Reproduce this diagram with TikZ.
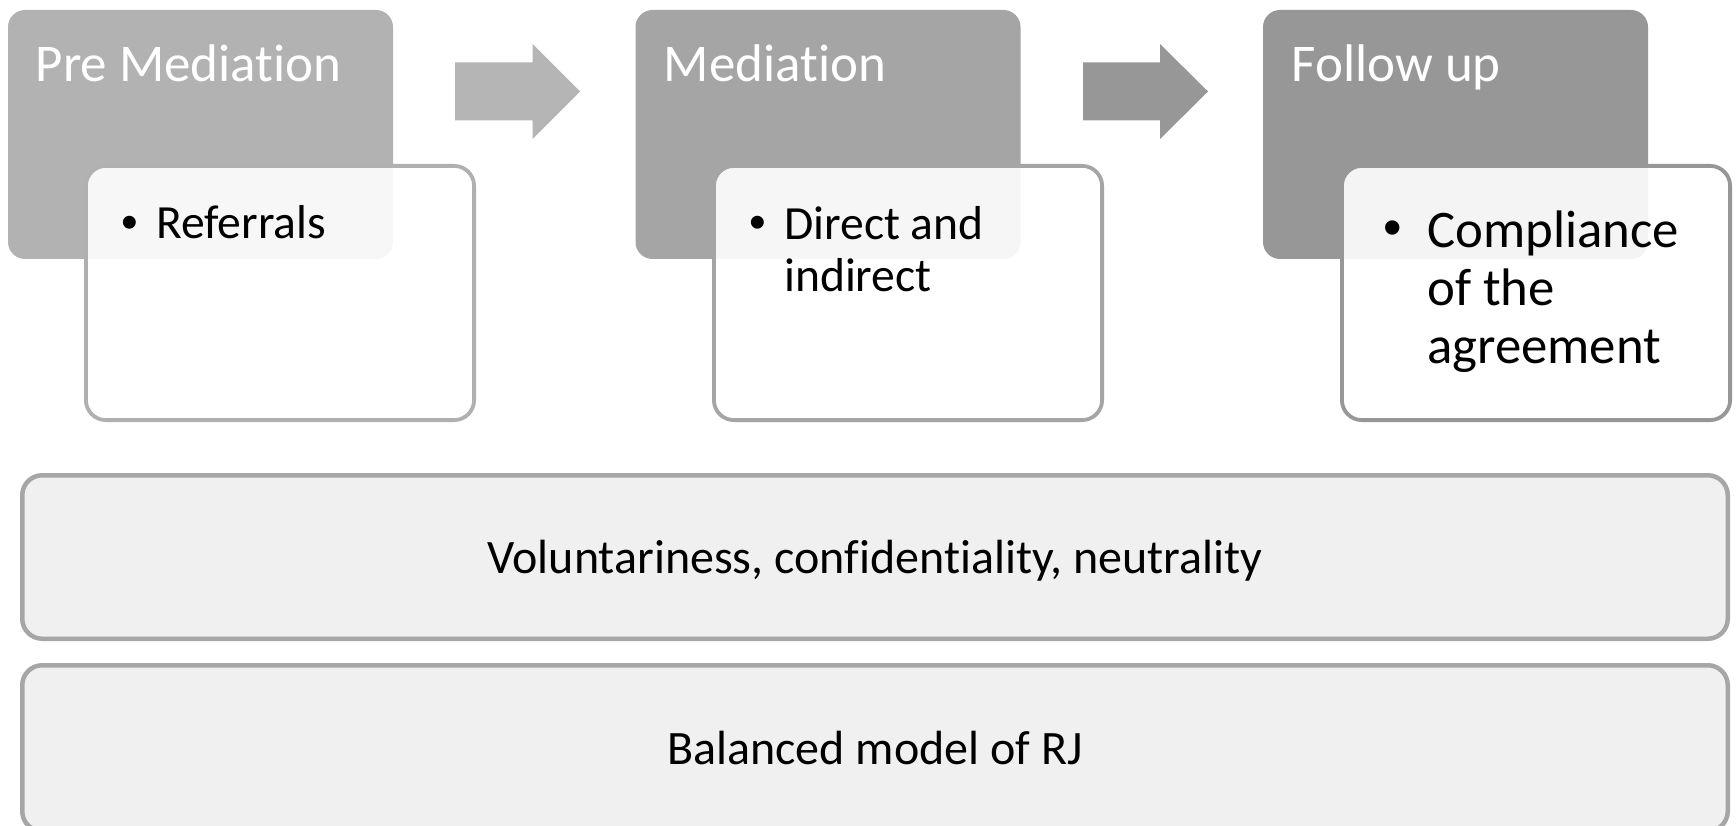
\documentclass[tikz,border=0pt]{standalone}
\usepackage{fontspec}
\setmainfont{Carlito}[Ligatures=NoCommon]
\newfontfamily\bulletfont{Liberation Sans}
\definecolor{g1}{HTML}{B2B2B2}
\definecolor{g2}{HTML}{A5A5A5}
\definecolor{g3}{HTML}{979797}
\definecolor{a1}{HTML}{B5B5B5}
\definecolor{a2}{HTML}{979797}
\definecolor{b1}{HTML}{B0B0B0}
\definecolor{b2}{HTML}{A5A5A5}
\definecolor{b3}{HTML}{979797}
\definecolor{basefill}{HTML}{F0F0F0}
\definecolor{baseedge}{HTML}{A6A6A6}
\begin{document}
\begin{tikzpicture}[x=1pt,y=-1pt,
 stagebox/.style={rounded corners=17pt, minimum width=385pt, minimum height=249pt, anchor=north west, inner sep=0pt, outer sep=0pt},
 detailbox/.style={fill=white, fill opacity=0.9, line width=3.8pt, rounded corners=20pt, minimum width=388.2pt, minimum height=254.2pt, anchor=north west, inner sep=0pt, outer sep=0pt},
 titletext/.style={text=white, anchor=base west, inner sep=0pt, font=\fontsize{53}{58}\selectfont},
 bullettext/.style={anchor=base west, inner sep=0pt, align=left, font=\fontsize{47.6}{52}\selectfont},
 bigbullettext/.style={anchor=base west, inner sep=0pt, align=left, font=\fontsize{52.8}{58}\selectfont},
 bulletdot/.style={anchor=base west, inner sep=0pt, font=\bulletfont\fontsize{47.6}{52}\selectfont},
 bigbulletdot/.style={anchor=base west, inner sep=0pt, font=\bulletfont\fontsize{52.8}{58}\selectfont},
 basebox/.style={fill=basefill, draw=baseedge, line width=4.5pt, rounded corners=20pt, minimum width=1705.5pt, anchor=north west, inner sep=0pt, outer sep=0pt},
 basetext/.style={font=\fontsize{48}{52}\selectfont, anchor=base, inner sep=0pt}
]
\clip (0,0) rectangle (1736,826);
\fill[white] (0,0) rectangle (1736,826);

% stage 1
\node[stagebox, fill=g1] (s1) at (8,10) {};
\node[titletext] (s1t) at (35.5,82) {Pre Mediation};
\node[detailbox, draw=b1] (d1) at (85.9,165.9) {};
\node[bulletdot] (d1b) at (121,239) {•};
\node[bullettext] (d1t) at (156,239) {Referrals};

% arrow 1
\fill[a1] (455,62.5) -- (532.5,62.5) -- (532.5,44) -- (580,91.5) -- (532.5,139) -- (532.5,120.5) -- (455,120.5) -- cycle;

% stage 2
\node[stagebox, fill=g2] (s2) at (635.5,10) {};
\node[titletext] (s2t) at (663.5,82) {Mediation};
\node[detailbox, draw=b2] (d2) at (713.9,165.9) {};
\node[bulletdot] (d2b) at (749,239) {•};
% base anchor of a multi-line node is the baseline of its last line
\node[bullettext] (d2t) at (784,291) {Direct and\\indirect};

% arrow 2
\fill[a2] (1083,62.5) -- (1160,62.5) -- (1160,44) -- (1208,91.5) -- (1160,139) -- (1160,120.5) -- (1083,120.5) -- cycle;

% stage 3
\node[stagebox, fill=g3] (s3) at (1263,10) {};
\node[titletext] (s3t) at (1291.5,82) {Follow up};
\node[detailbox, draw=b3] (d3) at (1341.9,165.9) {};
\node[bigbulletdot] (d3b) at (1383,246) {•};
\node[bigbullettext] (d3t) at (1427,363) {Compliance\\of the\\agreement};

% base boxes
\node[basebox, minimum height=163.5pt] (p1) at (22.25,475.25) {};
\node[basetext] (p1t) at (875,573.5) {Voluntariness, confidentiality, neutrality};
\node[basebox, minimum height=166pt] (p2) at (22.25,665.25) {};
\node[basetext] (p2t) at (875,764) {Balanced model of RJ};
\end{tikzpicture}
\end{document}
